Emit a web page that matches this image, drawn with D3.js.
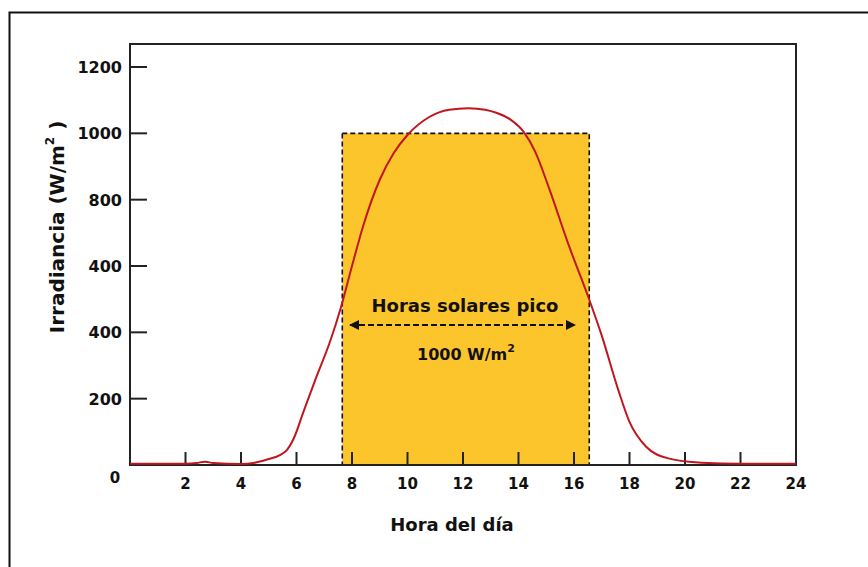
<!DOCTYPE html>
<html>
<head>
<meta charset="utf-8">
<script src="https://cdn.jsdelivr.net/npm/d3@7"></script>
<style>
  body { margin: 0; background: #fff; }
  svg text { font-family: "DejaVu Sans", sans-serif; font-weight: bold; fill: #111; }
</style>
</head>
<body>
<div class="content"></div>
<script>
// hora del día y su irradiancia (W/m2)
var horas = [0, 1, 2, 2.4, 2.7, 3.0, 4, 4.5, 5.0, 5.4, 5.65, 5.9, 6.25, 6.7, 7.2, 7.6, 8.0, 8.4, 9.0, 9.5, 10.0, 10.8, 11.5, 12.2, 12.8, 13.2, 13.7, 14.2, 14.6, 15.1, 15.8, 16.5, 17.0, 17.6, 18.0, 18.6, 19.4, 20.6, 22.0, 24];
var irradiancia = [4, 4, 4, 6, 10, 6, 3, 7, 18, 30, 45, 80, 160, 262, 370, 475, 600, 720, 860, 940, 995, 1050, 1071, 1076, 1071, 1062, 1042, 1003, 945, 835, 665, 510, 390, 225, 130, 55, 20, 7, 4, 4];

// etiquetas de los ejes (tal como aparecen en la figura)
var xTicks = [2, 4, 6, 8, 10, 12, 14, 16, 18, 20, 22, 24];
var yTicks = [200, 400, 600, 800, 1000, 1200];
var yTickLabels = ['200', '400', '400', '800', '1000', '1200'];

// horas solares pico: rectángulo de 1000 W/m2
var pico = { desde: 7.65, hasta: 16.55, valor: 1000 };

var w = 868, h = 567;
var mLeft = 130, mRight = 796, mTop = 44, mBottom = 465;

var svg = d3.select('.content').append('svg')
    .attr('width', w)
    .attr('height', h);

var x = d3.scaleLinear().domain([0, 24]).range([mLeft, mRight]);
var y = d3.scaleLinear().domain([0, 1200]).range([mBottom, 67]);

// marco exterior
svg.append('path')
    .attr('d', 'M9.5,' + h + 'V12.5H' + w)
    .attr('fill', 'none')
    .attr('stroke', '#111')
    .attr('stroke-width', 2);

// rectángulo amarillo
svg.append('rect')
    .attr('x', x(pico.desde))
    .attr('y', y(pico.valor))
    .attr('width', x(pico.hasta) - x(pico.desde))
    .attr('height', y(0) - y(pico.valor))
    .attr('fill', '#fdc52c')
    .attr('stroke', '#111')
    .attr('stroke-width', 1.6)
    .attr('stroke-dasharray', '5,3');

// marco del gráfico
svg.append('rect')
    .attr('x', mLeft)
    .attr('y', mTop)
    .attr('width', mRight - mLeft)
    .attr('height', mBottom - mTop)
    .attr('fill', 'none')
    .attr('stroke', '#222')
    .attr('stroke-width', 2);

// marcas del eje x (hacia adentro)
svg.selectAll('line.xtick')
    .data(xTicks.slice(0, -1))
    .enter().append('line')
    .attr('class', 'xtick')
    .attr('x1', function(d) { return x(d); })
    .attr('x2', function(d) { return x(d); })
    .attr('y1', mBottom)
    .attr('y2', mBottom - 13)
    .attr('stroke', '#222')
    .attr('stroke-width', 2);

svg.selectAll('text.xlabel')
    .data(xTicks)
    .enter().append('text')
    .attr('class', 'xlabel')
    .attr('x', function(d) { return x(d); })
    .attr('y', mBottom + 24)
    .attr('text-anchor', 'middle')
    .style('font-size', '15px')
    .text(function(d) { return d; });

// marcas del eje y
svg.selectAll('line.ytick')
    .data(yTicks)
    .enter().append('line')
    .attr('class', 'ytick')
    .attr('x1', mLeft)
    .attr('x2', mLeft + 17)
    .attr('y1', function(d) { return y(d); })
    .attr('y2', function(d) { return y(d); })
    .attr('stroke', '#222')
    .attr('stroke-width', 2);

svg.selectAll('text.ylabel')
    .data(yTicks)
    .enter().append('text')
    .attr('class', 'ylabel')
    .attr('x', mLeft - 8)
    .attr('y', function(d) { return y(d) + 6; })
    .attr('text-anchor', 'end')
    .style('font-size', '16px')
    .text(function(d, i) { return yTickLabels[i]; });

// el cero va en la esquina
svg.append('text')
    .attr('x', mLeft - 15)
    .attr('y', mBottom + 18)
    .attr('text-anchor', 'middle')
    .style('font-size', '15px')
    .text('0');

// curva de irradiancia
var line = d3.line()
    .x(function(d, i) { return x(horas[i]); })
    .y(function(d) { return y(d); })
    .curve(d3.curveMonotoneX);

svg.append('path')
    .datum(irradiancia)
    .attr('d', line)
    .attr('fill', 'none')
    .attr('stroke', '#c0161e')
    .attr('stroke-width', 2);

// títulos de ejes
svg.append('text')
    .attr('x', 452)
    .attr('y', 531)
    .attr('text-anchor', 'middle')
    .style('font-size', '18px')
    .text('Hora del día');

var ytitle = svg.append('text')
    .attr('transform', 'translate(64,227) rotate(-90)')
    .attr('text-anchor', 'middle')
    .style('font-size', '20px');
ytitle.append('tspan').text('Irradiancia  (W/m');
ytitle.append('tspan').attr('dy', -10).style('font-size', '12px').text('2');
ytitle.append('tspan').attr('dy', 10).text(' )');

// anotación de horas solares pico
svg.append('defs').append('marker')
    .attr('id', 'flecha')
    .attr('viewBox', '0 0 10 10')
    .attr('refX', 9)
    .attr('refY', 5)
    .attr('markerWidth', 10)
    .attr('markerHeight', 10)
    .attr('markerUnits', 'userSpaceOnUse')
    .attr('orient', 'auto-start-reverse')
    .append('path')
    .attr('d', 'M0,0L10,5L0,10z')
    .attr('fill', '#111');

svg.append('text')
    .attr('x', 465)
    .attr('y', 312)
    .attr('text-anchor', 'middle')
    .style('font-size', '18px')
    .text('Horas solares pico');

svg.append('line')
    .attr('x1', 350)
    .attr('x2', 575)
    .attr('y1', 325)
    .attr('y2', 325)
    .attr('stroke', '#111')
    .attr('stroke-width', 1.8)
    .attr('stroke-dasharray', '6,3')
    .attr('marker-start', 'url(#flecha)')
    .attr('marker-end', 'url(#flecha)');

var anot = svg.append('text')
    .attr('x', 417)
    .attr('y', 360)
    .style('font-size', '16px');
anot.append('tspan').text('1000 W/m');
anot.append('tspan').attr('dy', -8).style('font-size', '11px').text('2');
</script>
</body>
</html>
